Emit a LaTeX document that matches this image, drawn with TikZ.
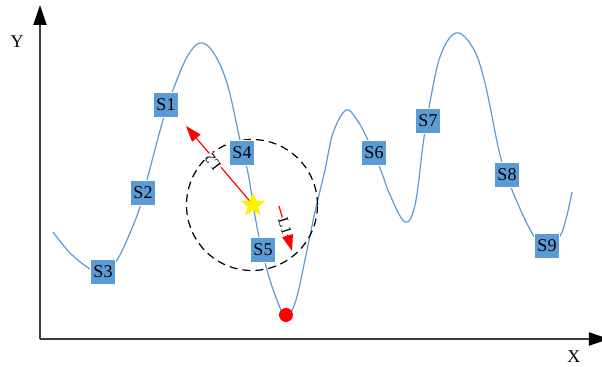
\documentclass[tikz,border=0pt]{standalone}
\usepackage{fontspec}
\setmainfont{Liberation Serif}
\usepackage{tikz}
\usetikzlibrary{positioning,arrows.meta,shapes.geometric}
\definecolor{cBox}{RGB}{91,155,213}
\definecolor{cAxis}{RGB}{60,60,60}

\begin{document}
\begin{tikzpicture}[x=0.5pt,y=-0.5pt,every node/.style={font=\fontsize{9}{10}\selectfont},
    state/.style={draw=white,line width=0.3pt,fill=cBox,inner sep=0pt,minimum width=12.5pt,minimum height=12.5pt},
    axis/.style={cAxis,line width=1pt,-{Triangle[length=10pt,width=6.5pt,black]}},
    dist/.style={red,line width=0.6pt,-{Triangle[length=8pt,width=5.5pt]}},
    distlabel/.style={fill=white,inner sep=0.3pt,font=\fontsize{7.5}{8}\selectfont}]
  \useasboundingbox (0,0) rectangle (602,367);
  \coordinate (orig) at (40,339);
  \coordinate (yend) at (40,5);
  \coordinate (xend) at (609,339);
  \draw[axis] (orig) -- (yend);
  \draw[axis] (orig) -- (xend);
  \node (ylab) at (17,42) {Y};
  \node (xlab) at (574,357) {X};
  \draw[cBox,line width=0.6pt] plot[smooth,tension=0.6] coordinates {
    (53,232) (70,253) (90,269) (103,273) (117,260) (130,233) (140,207)
    (147,180) (163,120) (173,90) (187,57) (200,43) (213,52) (227,83)
    (240,140) (248,173) (257,227) (267,270) (277,300) (286,317) (296,300)
    (307,250) (315,212) (325,170) (333,133) (346,110) (357,120) (367,138)
    (380,168) (390,195) (405,222) (415,205) (423,145) (428,113) (440,57)
    (456,33) (473,48) (485,83) (500,155) (512,190) (532,233) (547,249)
    (562,232) (572,192)};
  \draw[black,line width=0.6pt,dash pattern=on 4pt off 2.5pt] (252,205) circle[radius=32.75pt];
  \node[state] (s1) at (166,105) {S1};
  \node[state] (s2) at (143,193) {S2};
  \node[state] (s3) at (103,272) {S3};
  \node[state] (s4) at (242,153) {S4};
  \node[state] (s5) at (263,250) {S5};
  \node[state] (s6) at (374,153) {S6};
  \node[state] (s7) at (428,121) {S7};
  \node[state] (s8) at (507,175) {S8};
  \node[state] (s9) at (547,246) {S9};
  \coordinate (goalpt) at (253,205);
  \coordinate (l2end) at (186,126);
  \coordinate (l1start) at (279,206);
  \coordinate (l1end) at (292,251);
  \draw[dist] (goalpt) -- (l2end);
  \draw[dist] (l1start) -- (l1end);
  \node[distlabel,rotate=127] (l2) at (213,162) {L2};
  \node[distlabel,rotate=-73] (l1) at (285,226) {L1};
  \node[star,star points=5,star point ratio=2.4,fill=yellow,minimum size=13pt,inner sep=0pt] (goal) at (goalpt) {};
  \node[circle,fill=red,minimum size=7pt,inner sep=0pt] (best) at (286,315) {};
\end{tikzpicture}
\end{document}
